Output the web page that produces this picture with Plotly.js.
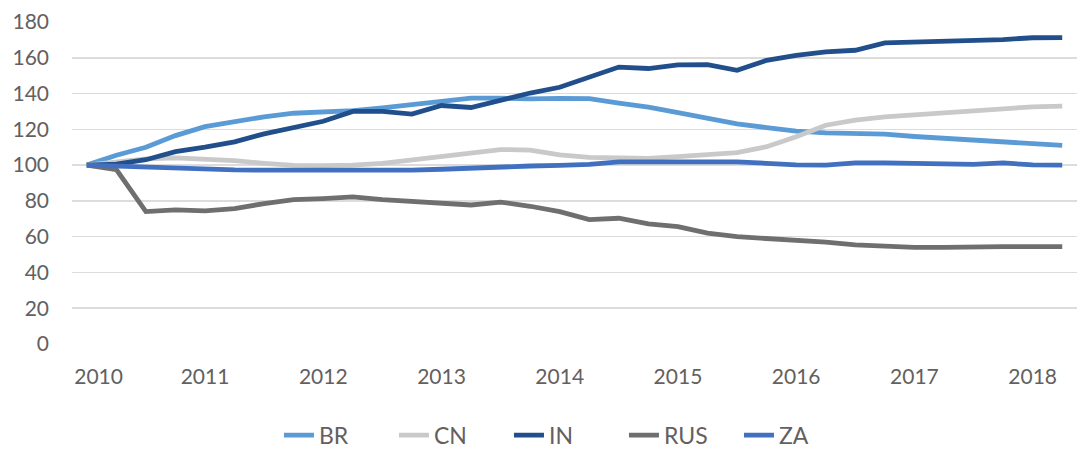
<!DOCTYPE html>
<html>
<head>
<meta charset="utf-8">
<script src="https://cdn.plot.ly/plotly-3.0.1.min.js"></script>
<style>
  html, body { margin: 0; padding: 0; background: #ffffff; }
  #chart { width: 1079px; height: 450px; }
</style>
</head>
<body>
<div id="chart"></div>
<script>
// Quarterly index values, 2010Q1 = 100, through 2018Q2
const quarters = Array.from({length: 34}, (_, i) => i);
const yearTickVals = [0.4, 4, 8, 12, 16, 20, 24, 28, 32];
const yearTickText = ["2010", "2011", "2012", "2013", "2014", "2015", "2016", "2017", "2018"];

const seriesNames = ["BR", "CN", "IN", "RUS", "ZA"];

const BR = [100, 105.5, 110, 116.5, 121.5, 124.5, 127, 129, 129.5, 130.5, 132, 134,
            136, 137.5, 137.5, 137, 137.3, 137.2, 134.7, 132.4, 129.3, 126, 123, 121,
            119, 118, 117.7, 117.3, 116, 115, 114.5, 113.3, 112, 111];
const CN = [100, 101.5, 103.5, 104, 103.5, 102.5, 101, 99.8, 99.7, 100, 101, 103,
            104.7, 107, 108.7, 108.4, 105.7, 104.3, 103.8, 103.8, 104.7, 106, 107, 110.3,
            115.9, 122.3, 125.2, 127, 128.1, 129.2, 130.6, 132, 132.6, 133];
const IN = [100, 100.5, 103, 107.5, 110, 113, 117.5, 121, 124.5, 130, 130, 128.5,
            133.3, 132.2, 136.3, 140.3, 143.5, 149.2, 154.8, 154, 156, 156.2, 153, 158.6,
            161.4, 163.3, 164.2, 168.3, 168.7, 169.4, 169.4, 170.2, 171.2, 171.3];
const RUS = [100, 97.5, 74, 75, 74.4, 75.7, 78.5, 80.7, 81.3, 82.2, 80.7, 79.5,
             78.3, 77.7, 79.3, 77, 74, 69.5, 70.3, 67.2, 65.6, 62, 60, 59.1,
             57.8, 56.9, 55.4, 54.5, 54, 54, 54.4, 54.4, 54.4, 54.4];
const ZA = [100, 99.4, 98.8, 98.3, 97.8, 97.3, 97.2, 97.2, 97.2, 97, 97, 97.2,
            97.7, 98.5, 99.1, 99.5, 99.8, 100.4, 101.8, 101.9, 101.8, 101.8, 101.8, 101,
            100.1, 100, 101.2, 101.2, 100.9, 100.2, 100.4, 101.2, 100.1, 100];

const seriesValues = [BR, CN, IN, RUS, ZA];
const seriesColors = ["#5B9BD5", "#C9C9C9", "#214F8C", "#6F6F6F", "#4270C0"];

const yTickVals = [0, 20, 40, 60, 80, 100, 120, 140, 160, 180];

const traces = seriesNames.map((name, k) => ({
  type: "scatter",
  mode: "lines",
  name: name,
  x: quarters,
  y: seriesValues[k],
  line: { color: seriesColors[k], width: 4.8 },
  hoverinfo: "x+y+name"
}));

const fontFamily = "Lato, 'Open Sans', 'Liberation Sans', sans-serif";
const textColor = "#636060";

const layout = {
  width: 1079,
  height: 450,
  margin: { l: 72, r: 2, t: 22, b: 106 },
  paper_bgcolor: "#ffffff",
  plot_bgcolor: "#ffffff",
  font: { family: fontFamily, size: 21, color: textColor },
  showlegend: true,
  xaxis: {
    range: [-0.5, 33.5],
    tickmode: "array",
    tickvals: yearTickVals,
    ticktext: yearTickText,
    showgrid: false,
    zeroline: false,
    showline: false,
    ticks: "",
    ticklabelstandoff: 18,
    tickfont: { family: fontFamily, size: 21, color: textColor }
  },
  yaxis: {
    range: [0, 180],
    tickmode: "array",
    tickvals: yTickVals,
    showgrid: true,
    gridcolor: "#DCDCDC",
    gridwidth: 1.5,
    zeroline: false,
    showline: false,
    ticks: "",
    ticklabelstandoff: 22,
    tickfont: { family: fontFamily, size: 21, color: textColor }
  },
  legend: {
    orientation: "h",
    xref: "container",
    yref: "container",
    x: 0.525,
    xanchor: "center",
    y: 0.033,
    yanchor: "middle",
    entrywidth: 70,
    entrywidthmode: "pixels",
    font: { family: fontFamily, size: 23, color: textColor },
    bgcolor: "rgba(0,0,0,0)"
  }
};

Plotly.newPlot("chart", traces, layout, { displayModeBar: false, staticPlot: true });
</script>
</body>
</html>
